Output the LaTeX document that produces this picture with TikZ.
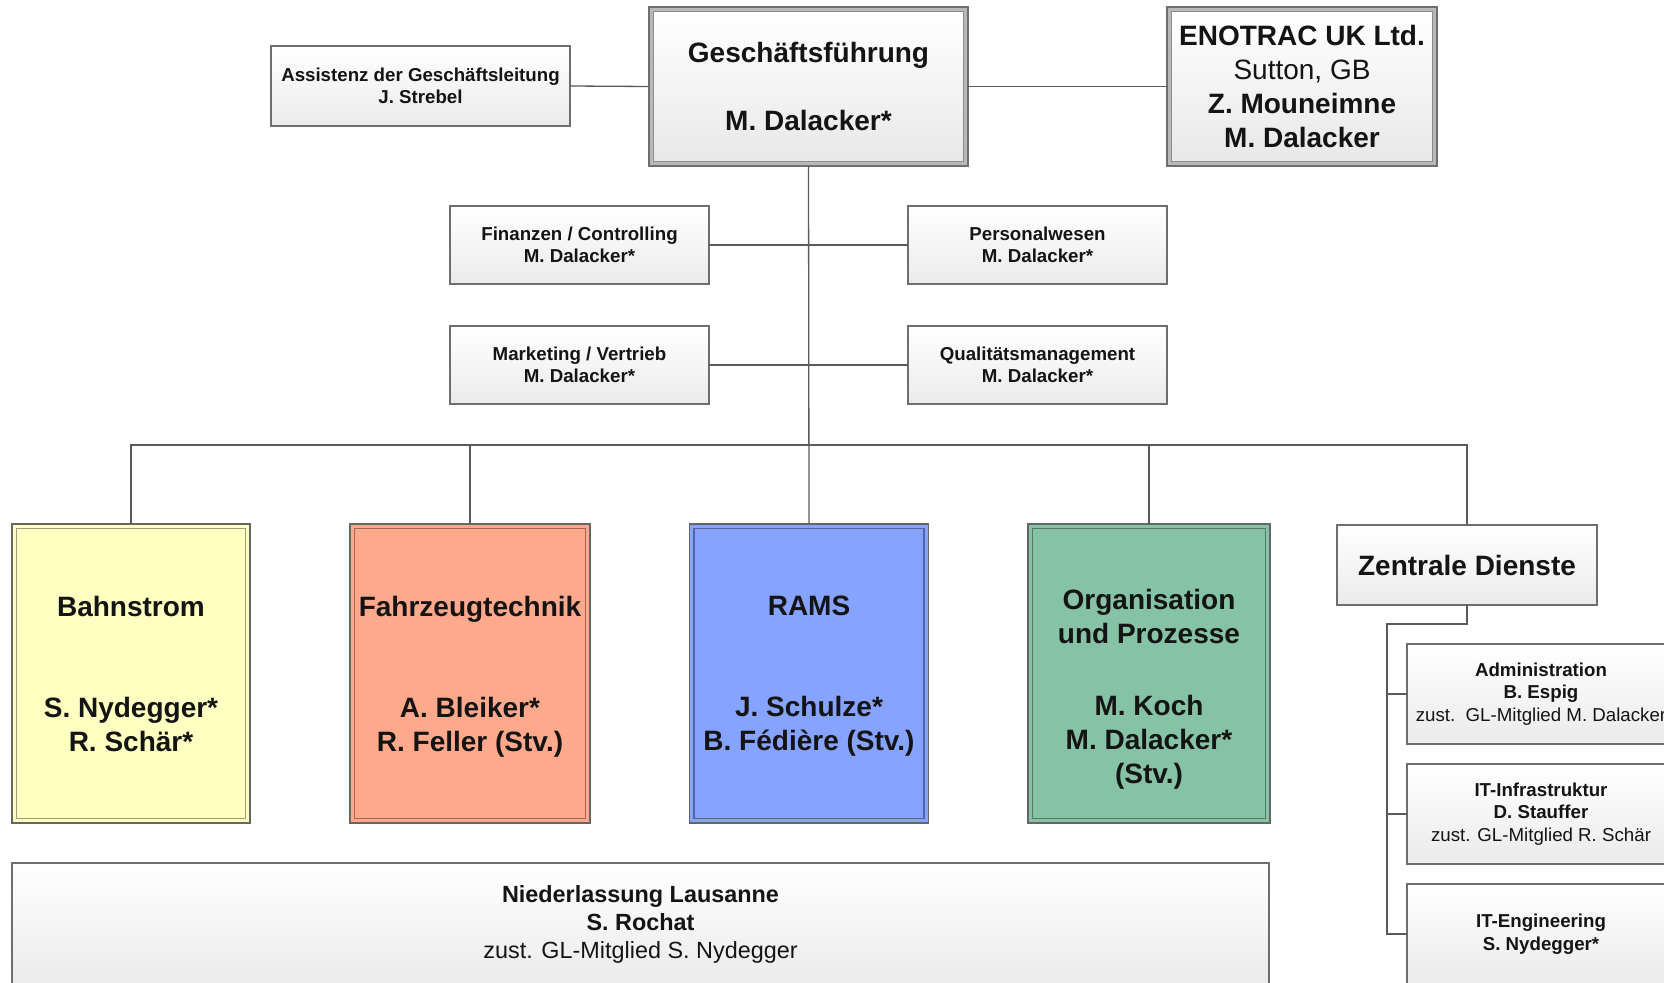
\documentclass[tikz,border=0pt]{standalone}
\usepackage{fontspec}
\setmainfont{Liberation Sans}
\definecolor{cY}{HTML}{FFFFC2}
\definecolor{cS}{HTML}{FFA98C}
\definecolor{cB}{HTML}{86A3FF}
\definecolor{cG}{HTML}{86C2A5}
\definecolor{lineC}{HTML}{5A5A5A}
\definecolor{boxC}{HTML}{6E6E6E}
\definecolor{txtC}{HTML}{141414}
\tikzset{
  conn/.style={draw=lineC, line width=1.3pt},
  fontS/.style={font=\fontsize{18.7}{22.5}\selectfont\bfseries},
  fontM/.style={font=\fontsize{23.4}{28}\selectfont\bfseries},
  fontL/.style={font=\fontsize{28}{34}\selectfont\bfseries},
  wbox/.style={draw=boxC, line width=1.3pt, top color=white, bottom color=black!8,
    inner sep=0pt, outer sep=0pt, align=center, text=txtC},
  dblouter/.style={draw=boxC, line width=1.3pt, fill=black!28, inner sep=0pt, outer sep=0pt},
  dblinner/.style={draw=black!45, line width=1.3pt, top color=white, bottom color=black!9,
    inner sep=0pt, outer sep=0pt, align=center, text=txtC},
  couter/.style={draw=black!60, line width=1.3pt, fill=#1, inner sep=0pt, outer sep=0pt,
    minimum width=240pt, minimum height=299pt},
  cinner/.style={draw=#1!62!black, line width=1.6pt, inner sep=0pt, outer sep=0pt,
    align=center, text=txtC, text depth=0pt},
  txtnode/.style={inner sep=0pt, outer sep=0pt, align=center, text=txtC}
}
\begin{document}
\begin{tikzpicture}[x=1pt,y=-1pt]
\useasboundingbox (0,0) rectangle (1664,982);
\clip (0,0) rectangle (1664,982);

% top row
\node[wbox, fontS, minimum width=299pt, minimum height=80pt] (asst) at (420.5,86)
  {Assistenz der Geschäftsleitung\\J. Strebel};
\node[dblouter, minimum width=319pt, minimum height=159pt] (gf) at (808.5,86.5) {};
\node[dblinner, fontL, minimum width=310pt, minimum height=150pt] (gfin) at (gf.center)
  {Geschäftsführung\\[34pt]M. Dalacker*};
\node[dblouter, minimum width=270pt, minimum height=159pt] (uk) at (1302,86.5) {};
\node[dblinner, fontL, minimum width=261pt, minimum height=150pt] (ukin) at (uk.center)
  {ENOTRAC UK Ltd.\\\textmd{Sutton, GB}\\Z. Mouneimne\\M. Dalacker};

% staff functions
\node[wbox, fontS, minimum width=259pt, minimum height=78pt] (fin) at (579.5,245)
  {Finanzen / Controlling\\M. Dalacker*};
\node[wbox, fontS, minimum width=259pt, minimum height=78pt] (pers) at (1037.5,245)
  {Personalwesen\\M. Dalacker*};
\node[wbox, fontS, minimum width=259pt, minimum height=78pt] (mkt) at (579.5,365)
  {Marketing / Vertrieb\\M. Dalacker*};
\node[wbox, fontS, minimum width=259pt, minimum height=78pt] (qm) at (1037.5,365)
  {Qualitätsmanagement\\M. Dalacker*};

% divisions
\node[couter=cY, minimum width=238pt] (bahn) at (131,673.5) {};
\node[cinner=cY, fontL, minimum width=229pt, minimum height=290pt] (bahnin) at (bahn.center)
  {Bahnstrom\\[67pt]S. Nydegger*\\R. Schär*};
\node[couter=cS, minimum width=240pt] (fahr) at (470,673.5) {};
\node[cinner=cS, fontL, minimum width=231pt, minimum height=290pt] (fahrin) at (fahr.center)
  {Fahrzeugtechnik\\[67pt]A. Bleiker*\\R. Feller (Stv.)};
\node[couter=cB, minimum width=239pt] (rams) at (809,673.5) {};
\node[cinner=cB, fontL, minimum width=230pt, minimum height=290pt] (ramsin) at (rams.center)
  {RAMS\\[67pt]J. Schulze*\\B. Fédière (Stv.)};
\node[couter=cG, minimum width=242pt] (org) at (1149,673.5) {};
\node[cinner=cG, minimum width=233pt, minimum height=290pt] (orgin) at (org.center) {};
\node[txtnode, fontL] (orgtxt) at (1149,689)
  {Organisation\\und Prozesse\\[38pt]M. Koch\\M. Dalacker*\\(Stv.)};

\node[wbox, fontL, minimum width=260pt, minimum height=80pt] (zd) at (1467,565)
  {Zentrale Dienste};
\node[wbox, fontS, minimum width=268pt, minimum height=100pt] (admin) at (1541,694)
  {Administration\\B. Espig\\\textmd{zust.\ \ GL-Mitglied M. Dalacker}};
\node[wbox, fontS, minimum width=268pt, minimum height=100pt] (infra) at (1541,814)
  {IT-Infrastruktur\\D. Stauffer\\\textmd{zust. GL-Mitglied R. Schär}};
\node[wbox, fontS, minimum width=268pt, minimum height=100pt] (eng) at (1541,934)
  {IT-Engineering\\S. Nydegger*};

\node[wbox, fontM, minimum width=1257pt, minimum height=122pt] (laus) at (640.5,924)
  {Niederlassung Lausanne\\S. Rochat\\\textmd{zust. GL-Mitglied S. Nydegger}};

% connectors
\draw[conn] (asst.east) -- (gf.west);
\draw[conn] (gf.east) -- (uk.west);
\draw[conn] (gf.south) -- (rams.north);
\draw[conn] (fin.east) -- (pers.west);
\draw[conn] (mkt.east) -- (qm.west);
\coordinate (busL) at (131,445);
\draw[conn] (bahn.north) |- (zd.north |- busL) -- (zd.north);
\draw[conn] (fahr.north) -- (fahr.north |- busL);
\draw[conn] (org.north) -- (org.north |- busL);
\coordinate (zdk) at (1387,624);
\draw[conn] (zd.south) |- (zdk) |- (eng.west);
\draw[conn] (zdk |- admin.west) -- (admin.west);
\draw[conn] (zdk |- infra.west) -- (infra.west);
\end{tikzpicture}
\end{document}
